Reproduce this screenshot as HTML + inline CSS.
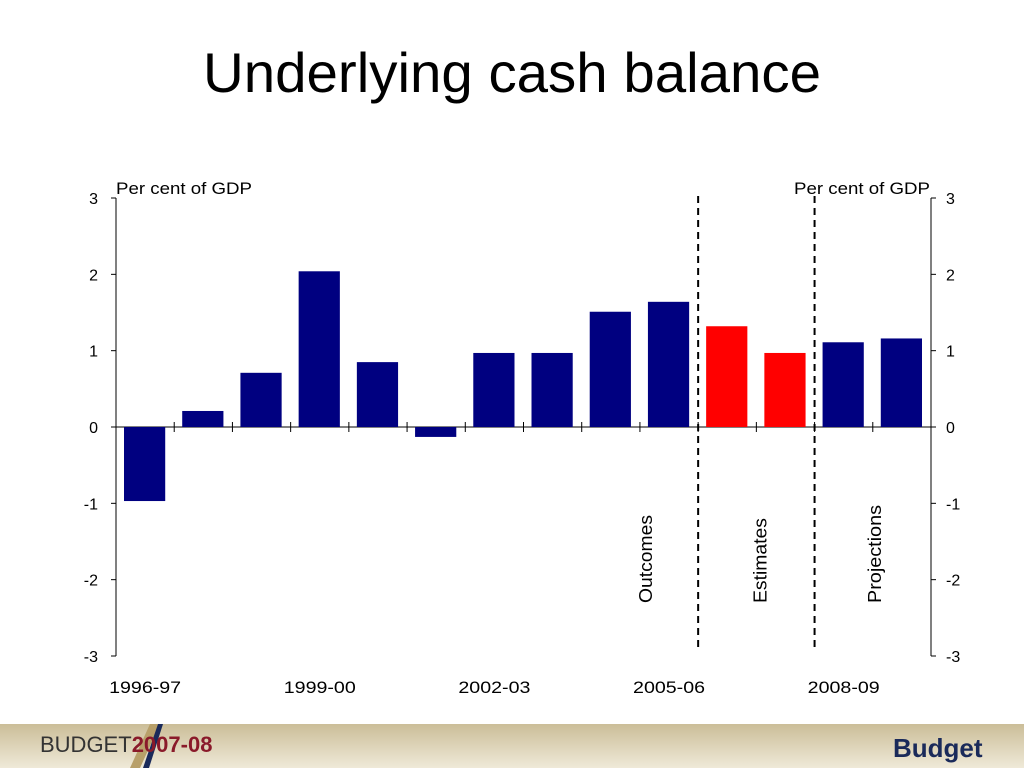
<!DOCTYPE html>
<html><head><meta charset="utf-8"><style>
body{margin:0;width:1024px;height:768px;background:#fff;overflow:hidden;font-family:"Liberation Sans",sans-serif}
</style></head><body>
<svg width="1024" height="768" style="position:absolute;left:0;top:0">
<defs><linearGradient id="fg" x1="0" x2="0" y1="0" y2="1"><stop offset="0" stop-color="#cbbd98"/><stop offset="1" stop-color="#efe9d8"/></linearGradient></defs>
<text x="512" y="92" text-anchor="middle" font-size="50" textLength="618" lengthAdjust="spacingAndGlyphs" style="font-size:56px">Underlying cash balance</text>
<g id="plot"></g>
<g>
<rect x="0" y="724" width="1024" height="44" fill="url(#fg)"/>
<polygon points="130,768 150,724 160,724 140,768" fill="#b8a06a"/>
<polygon points="143,768 158,724 163,724 149,768" fill="#1a2a5a"/>
<text x="40" y="752" font-size="22" fill="#333">BUDGET<tspan fill="#8a1a2a" font-weight="bold">2007-08</tspan></text>
<text x="893" y="757" font-size="26" font-weight="bold" fill="#1a2a5a">Budget</text>
</g>
</svg>
<script>
const categories=["1996-97","1997-98","1998-99","1999-00","2000-01","2001-02","2002-03","2003-04","2004-05","2005-06","2006-07","2007-08","2008-09","2009-10"];
const values=[-0.97,0.21,0.71,2.04,0.85,-0.13,0.97,0.97,1.51,1.64,1.32,0.97,1.11,1.16];
const types=["o","o","o","o","o","o","o","o","o","o","e","e","p","p"];
const yTicks=[3,2,1,0,-1,-2,-3];
const xLabels=["1996-97","1999-00","2002-03","2005-06","2008-09"];
const NS="http://www.w3.org/2000/svg";
const g=document.getElementById('plot');
const L=116,R=931,n=categories.length,bw=(R-L)/n;
const y=v=>427-v*76.33;
const x=i=>L+i*bw;
function mk(t,a,p){const e=document.createElementNS(NS,t);for(const k in a)e.setAttribute(k,a[k]);(p||g).appendChild(e);return e;}
mk('line',{x1:L,y1:y(3),x2:L,y2:y(-3),stroke:'#000'});
mk('line',{x1:R,y1:y(3),x2:R,y2:y(-3),stroke:'#000'});
mk('line',{x1:L,y1:y(0),x2:R,y2:y(0),stroke:'#000'});
yTicks.forEach(v=>{
 mk('line',{x1:L-5,y1:y(v),x2:L,y2:y(v),stroke:'#000'});
 mk('line',{x1:R,y1:y(v),x2:R+5,y2:y(v),stroke:'#000'});
 const t1=mk('text',{x:L-18,y:y(v)+6,'text-anchor':'end','font-size':16});t1.textContent=v;
 
 const t2=mk('text',{x:R+15,y:y(v)+6,'font-size':16});t2.textContent=v;
 
});
for(let i=1;i<n;i++)mk('line',{x1:x(i),y1:y(0)-5,x2:x(i),y2:y(0)+5,stroke:'#000'});
values.forEach((v,i)=>{
 const r=mk('rect',{x:x(i)+8,width:bw-17,y:Math.min(y(v),y(0)),height:Math.abs(y(v)-y(0)),fill:types[i]==='e'?'#ff0000':'#000080'});
 
 
});
xLabels.forEach(l=>{const i=categories.indexOf(l);const t=mk('text',{x:x(i)+bw/2,y:693,'text-anchor':'middle','font-size':17,textLength:72,lengthAdjust:'spacingAndGlyphs'});t.textContent=l;
 });
[10,12].forEach(i=>{const l=mk('line',{x1:x(i),y1:196,x2:x(i),y2:650,stroke:'#000','stroke-width':2,'stroke-dasharray':'7,5'});
 });
[["Outcomes",9,12,88],["Estimates",11,10,85],["Projections",13,8,98]].forEach(([s,i,o,w])=>{
 const cx=x(i)+o;const t=mk('text',{x:cx,y:603,'font-size':18,textLength:w,lengthAdjust:'spacingAndGlyphs',transform:`rotate(-90 ${cx} 603)`});t.textContent=s;
 });
const a=mk('text',{x:116,y:194,'font-size':17,textLength:136,lengthAdjust:'spacingAndGlyphs'});a.textContent='Per cent of GDP';

const b=mk('text',{x:794,y:194,'font-size':17,textLength:136,lengthAdjust:'spacingAndGlyphs'});b.textContent='Per cent of GDP';

</script>
</body></html>
